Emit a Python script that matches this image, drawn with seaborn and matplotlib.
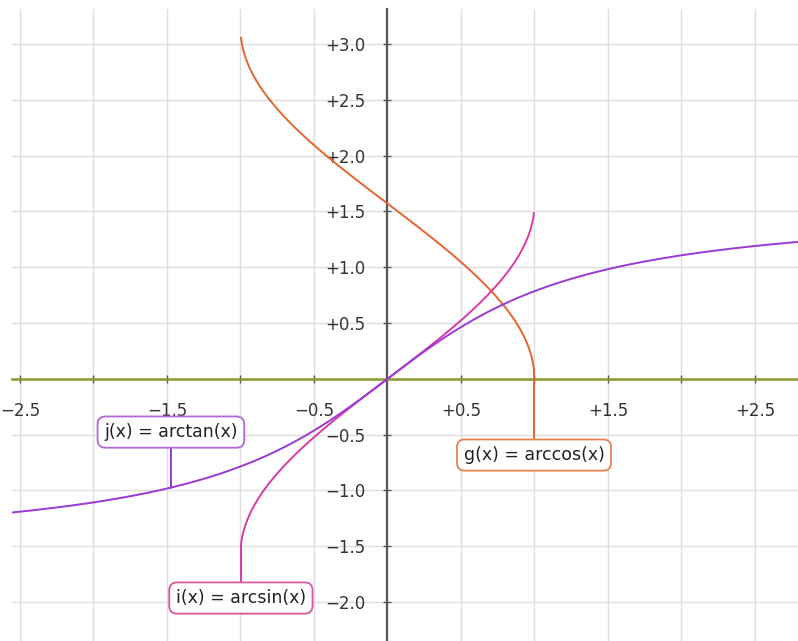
import numpy as np
import pandas as pd
import matplotlib
matplotlib.use("Agg")
import matplotlib.pyplot as plt
import seaborn as sns

# ---- data ----
func_names = ["g(x) = arccos(x)", "i(x) = arcsin(x)", "j(x) = arctan(x)"]
func_colors = ["#e5652e", "#d83aa8", "#9b38d6"]
box_colors = ["#e8824f", "#d9579f", "#b266dc"]
inv_domain = [-0.9965, 0.9965]
tan_domain = [-2.56, 2.80]
x_ticks = [-2.5, -2.0, -1.5, -1.0, -0.5, 0.5, 1.0, 1.5, 2.0, 2.5]
x_tick_labels = ["\u22122.5", "", "\u22121.5", "", "\u22120.5", "+0.5", "", "+1.5", "", "+2.5"]
y_ticks = [-2.0, -1.5, -1.0, -0.5, 0.5, 1.0, 1.5, 2.0, 2.5, 3.0]
y_tick_labels = ["\u22122.0", "\u22121.5", "\u22121.0", "\u22120.5", "+0.5", "+1.0", "+1.5", "+2.0", "+2.5", "+3.0"]
# label anchors (x on curve) and box centers
anchor_x = [0.9965, -0.9965, -1.473]
box_xy = [(0.997, -0.683), (-0.997, -1.964), (-1.473, -0.477)]

xi = np.linspace(inv_domain[0], inv_domain[1], 600)
xt = np.linspace(tan_domain[0], tan_domain[1], 600)
funcs = [np.arccos, np.arcsin, np.arctan]
frames = []
for name, f in zip(func_names, funcs):
    xs = xt if f is np.arctan else xi
    frames.append(pd.DataFrame({"x": xs, "y": f(xs), "func": name}))
df = pd.concat(frames, ignore_index=True)

sns.set_theme(style="whitegrid")
plt.rcParams["font.family"] = ["DejaVu Sans"]

fig = plt.figure(figsize=(7.98, 6.41), dpi=100)
ax = fig.add_axes([12 / 798, 0, 786 / 798, 632 / 641])

sns.lineplot(data=df, x="x", y="y", hue="func", palette=dict(zip(func_names, func_colors)),
             sort=False, linewidth=1.4, legend=False, ax=ax, zorder=3)

ax.set_xlim(-2.554, 2.793)
ax.set_ylim(-2.349, 3.314)
ax.set_xlabel("")
ax.set_ylabel("")

# grid every 0.5
ax.set_xticks(x_ticks)
ax.set_yticks(y_ticks)
ax.grid(True, color="#dedede", linewidth=1)
ax.set_facecolor("white")

# centered spines
for s in ["top", "right"]:
    ax.spines[s].set_visible(False)
ax.spines["left"].set_position(("data", 0))
ax.spines["bottom"].set_position(("data", 0))
ax.spines["left"].set_color("#555555")
ax.spines["left"].set_linewidth(1.6)
ax.spines["bottom"].set_color("#86992e")
ax.spines["bottom"].set_linewidth(1.8)
ax.spines["bottom"].set_zorder(2)
ax.spines["left"].set_zorder(2)

ax.set_xticklabels(x_tick_labels)
ax.set_yticklabels(y_tick_labels)
ax.tick_params(axis="x", direction="inout", length=6, width=1, color="#555555",
               labelsize=12, labelcolor="#333333", pad=14, bottom=True)
ax.tick_params(axis="y", direction="inout", length=6, width=1, color="#555555",
               labelsize=12, labelcolor="#333333", pad=13, left=True)

# labels with connectors
for name, f, ax_x, (bx, by), ec, lc in zip(func_names, funcs, anchor_x, box_xy, box_colors, func_colors):
    ay = f(ax_x)
    ax.plot([ax_x, ax_x], [ay, by], color=lc, linewidth=1.4, zorder=3)
    ax.text(bx, by, name, ha="center", va="center", fontsize=12.5, color="#222222", zorder=5,
            bbox=dict(boxstyle="round,pad=0.38,rounding_size=0.45", fc="white", ec=ec, lw=1.3))

fig.savefig("out.png", dpi=100)
